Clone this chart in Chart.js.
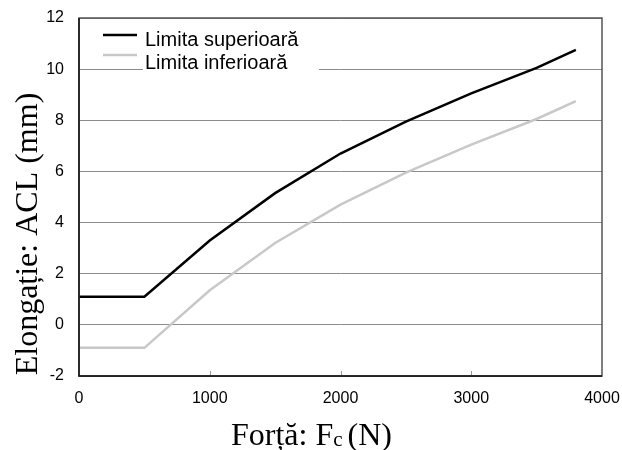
<!DOCTYPE html>
<html>
<head>
<meta charset="utf-8">
<script src="https://cdn.jsdelivr.net/npm/chart.js@4.4.1/dist/chart.umd.min.js"></script>
<style>
  html, body { margin: 0; padding: 0; background: #fff; }
  #wrap { width: 622px; height: 450px; }
</style>
</head>
<body>
<div id="wrap"><canvas id="chart" width="622" height="450"></canvas></div>
<script>
// Data
const forceN = [0, 500, 1000, 1500, 2000, 2500, 3000, 3500, 3800];
const upperLimit = [1.1, 1.1, 3.3, 5.15, 6.7, 7.95, 9.05, 10.05, 10.75];
const lowerLimit = [-0.9, -0.9, 1.35, 3.2, 4.7, 5.95, 7.05, 8.05, 8.75];
const seriesNames = ['Limita superioară', 'Limita inferioară'];
const xTicks = [0, 1000, 2000, 3000, 4000];
const yTicks = [-2, 0, 2, 4, 6, 8, 10, 12];

const toPoints = ys => forceN.map((x, i) => ({ x: x, y: ys[i] }));

// no extra label overflow padding, so the plot box lands where the padding says
const noPad = s => {
    s.paddingTop = 0; s.paddingBottom = 0;
    s.paddingLeft = 0; s.paddingRight = 0;
};

// Legend box, frame, inner tick marks and axis titles
const decorPlugin = {
    id: 'decor',
    afterDatasetsDraw(chart) {
        const ctx = chart.ctx;
        const a = chart.chartArea;
        const xs = chart.scales.x;
        ctx.save();

        // legend
        ctx.fillStyle = '#fff';
        ctx.fillRect(143, 22, 176, 50);
        const colors = ['#000', '#c8c8c8'];
        const lineY = [35, 55];
        const textY = [46, 69];
        ctx.font = '20px "Liberation Sans", Arial, sans-serif';
        ctx.textBaseline = 'alphabetic';
        ctx.textAlign = 'left';
        seriesNames.forEach((name, i) => {
            ctx.strokeStyle = colors[i];
            ctx.lineWidth = 2.5;
            ctx.beginPath();
            ctx.moveTo(103, lineY[i]);
            ctx.lineTo(137, lineY[i]);
            ctx.stroke();
            ctx.fillStyle = '#000';
            ctx.fillText(name, 145, textY[i]);
        });

        // small inward ticks on bottom axis
        ctx.strokeStyle = '#999';
        ctx.lineWidth = 1;
        xTicks.slice(1, -1).forEach(v => {
            const px = Math.round(xs.getPixelForValue(v)) + 0.5;
            ctx.beginPath();
            ctx.moveTo(px, a.bottom);
            ctx.lineTo(px, a.bottom - 5);
            ctx.stroke();
        });

        // frame
        ctx.strokeStyle = '#555';
        ctx.lineWidth = 1.5;
        ctx.strokeRect(a.left, a.top, a.right - a.left, a.bottom - a.top);
        ctx.strokeStyle = '#111';
        ctx.beginPath();
        ctx.moveTo(a.left, a.top);
        ctx.lineTo(a.left, a.bottom);
        ctx.lineTo(a.right, a.bottom);
        ctx.stroke();

        // y title
        ctx.fillStyle = '#000';
        ctx.font = '32px "Liberation Serif", "Times New Roman", serif';
        ctx.save();
        ctx.translate(37, 234);
        ctx.rotate(-Math.PI / 2);
        ctx.textAlign = 'center';
        ctx.fillText('Elongație: ACL (mm)', 0, 0);
        ctx.restore();

        // x title with subscript
        const main1 = 'Forță: F';
        const sub = 'c';
        const main2 = ' (N)';
        ctx.font = '32px "Liberation Serif", "Times New Roman", serif';
        const w1 = ctx.measureText(main1).width;
        const w3 = ctx.measureText(main2).width;
        ctx.font = '21px "Liberation Serif", "Times New Roman", serif';
        const w2 = ctx.measureText(sub).width;
        const x0 = 313 - (w1 + w2 + w3) / 2;
        const base = 445;
        ctx.textAlign = 'left';
        ctx.font = '32px "Liberation Serif", "Times New Roman", serif';
        ctx.fillText(main1, x0, base);
        ctx.font = '21px "Liberation Serif", "Times New Roman", serif';
        ctx.fillText(sub, x0 + w1, base + 1);
        ctx.font = '32px "Liberation Serif", "Times New Roman", serif';
        ctx.fillText(main2, x0 + w1 + w2 - 3, base);

        ctx.restore();
    }
};

new Chart(document.getElementById('chart'), {
    type: 'line',
    data: {
        datasets: [{
            label: seriesNames[0],
            data: toPoints(upperLimit),
            borderColor: '#000',
            borderWidth: 2.5,
            pointRadius: 0,
            tension: 0,
            fill: false
        }, {
            label: seriesNames[1],
            data: toPoints(lowerLimit),
            borderColor: '#c8c8c8',
            borderWidth: 2.5,
            pointRadius: 0,
            tension: 0,
            fill: false
        }]
    },
    options: {
        responsive: false,
        animation: false,
        layout: { padding: { left: 0, right: 20, top: 18, bottom: 0 } },
        plugins: {
            legend: { display: false },
            tooltip: { enabled: false }
        },
        scales: {
            x: {
                type: 'linear',
                min: 0,
                max: 4000,
                afterBuildTicks: s => { s.ticks = xTicks.map(v => ({ value: v })); },
                afterFit: s => { s.height = 74; noPad(s); },
                grid: { display: false, drawTicks: false },
                border: { display: false },
                ticks: {
                    color: '#000',
                    padding: 13,
                    maxRotation: 0,
                    callback: v => String(v),
                    font: { family: '"Liberation Sans", Arial, sans-serif', size: 16 }
                }
            },
            y: {
                min: -2,
                max: 12,
                afterBuildTicks: s => { s.ticks = yTicks.map(v => ({ value: v })); },
                afterFit: s => { s.width = 79; noPad(s); },
                grid: { color: '#8c8c8c', lineWidth: 1, drawTicks: false },
                border: { display: false },
                ticks: {
                    color: '#000',
                    padding: 15,
                    callback: v => String(v),
                    font: { family: '"Liberation Sans", Arial, sans-serif', size: 16 }
                }
            }
        }
    },
    plugins: [decorPlugin]
});
</script>
</body>
</html>
